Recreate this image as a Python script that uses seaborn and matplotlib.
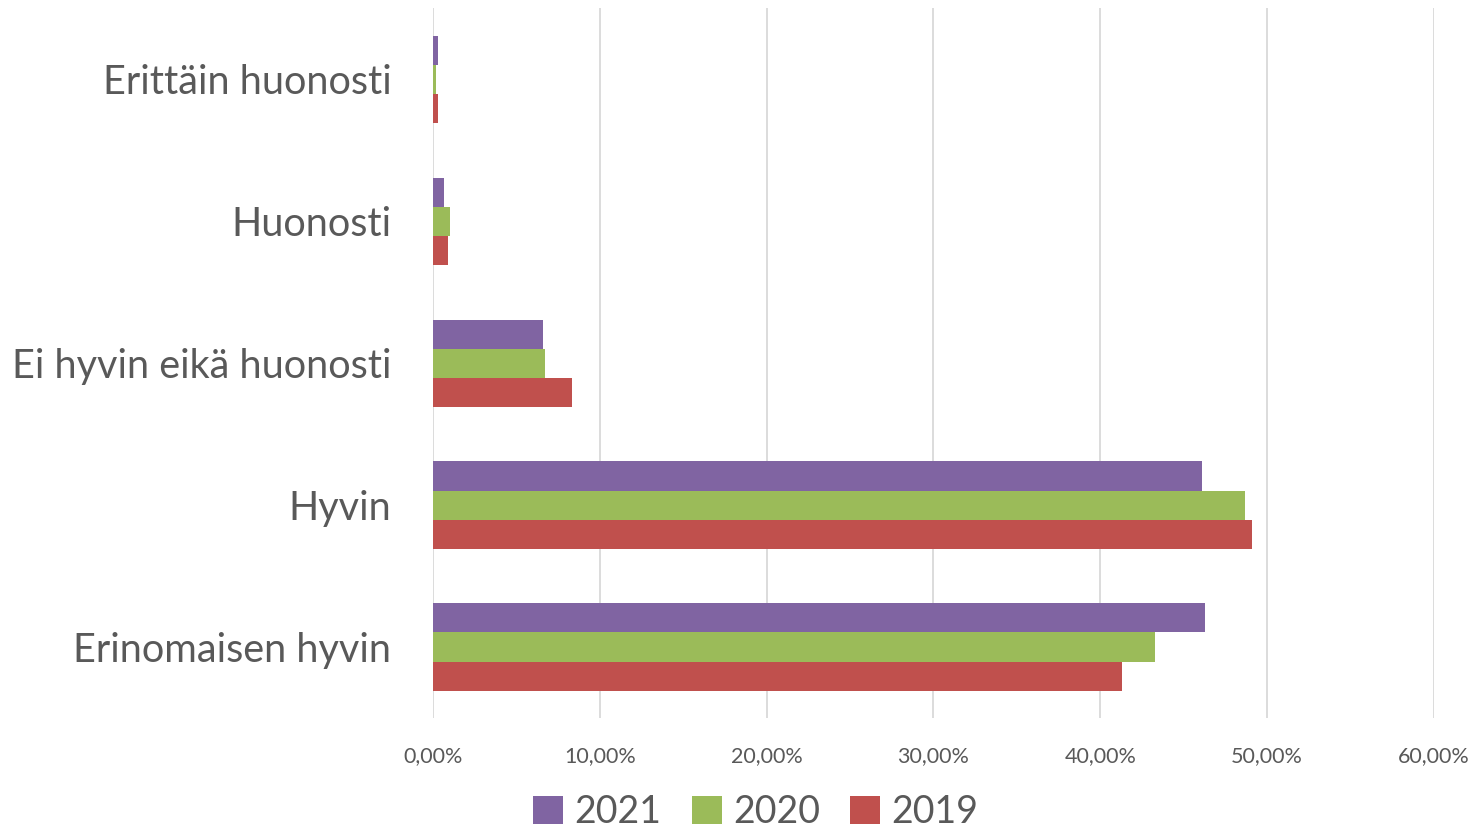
import matplotlib
matplotlib.use("Agg")
import matplotlib.pyplot as plt
import matplotlib.ticker as mticker
import seaborn as sns
import pandas as pd

# arvot luettu kuvasta (osuus vastaajista)
kategoriat = ["Erittäin huonosti", "Huonosti", "Ei hyvin eikä huonosti", "Hyvin", "Erinomaisen hyvin"]
vuodet = ["2021", "2020", "2019"]
v2021 = [0.0028, 0.0068, 0.0659, 0.4610, 0.4627]
v2020 = [0.0016, 0.0104, 0.0671, 0.4866, 0.4329]
v2019 = [0.0028, 0.0092, 0.0835, 0.4907, 0.4130]
varit = ["#8064A2", "#9BBB59", "#C0504D"]
xtikit = [0, 0.1, 0.2, 0.3, 0.4, 0.5, 0.6]

rows = []
for vuosi, arvot in zip(vuodet, [v2021, v2020, v2019]):
    for k, a in zip(kategoriat, arvot):
        rows.append({"kategoria": k, "vuosi": vuosi, "osuus": a})
df = pd.DataFrame(rows)

sns.set_style("white")
plt.rcParams["font.family"] = ["Lato", "DejaVu Sans"]
harmaa = "#595959"

fig = plt.figure(figsize=(14.76, 8.31), dpi=100)
ax = fig.add_axes([0.2934, 0.136, 0.6781, 0.854])

sns.barplot(data=df, y="kategoria", x="osuus", hue="vuosi",
            order=kategoriat, hue_order=vuodet, palette=varit,
            orient="h", width=0.615, saturation=1, linewidth=0, ax=ax)

ax.set_xlim(0, 0.6)
ax.set_xticks(xtikit)
ax.xaxis.set_major_formatter(mticker.FuncFormatter(lambda v, p: f"{v*100:.2f}%".replace(".", ",")))
ax.grid(axis="x", color="#d9d9d9", linewidth=1.3)
ax.set_axisbelow(True)
for s in ax.spines.values():
    s.set_visible(False)
ax.set_xlabel("")
ax.set_ylabel("")
ax.tick_params(axis="x", length=0, pad=20, labelsize=15.5, labelcolor=harmaa)
ax.tick_params(axis="y", length=0, pad=30, labelsize=28.5, labelcolor=harmaa)

ax.legend_.remove()
h, l = ax.get_legend_handles_labels()
fig.legend(h, l, loc="center", bbox_to_anchor=(0.512, 0.023), ncol=3,
           frameon=False, fontsize=27, labelcolor=harmaa,
           handlelength=0.8, handleheight=0.8, handletextpad=0.3, columnspacing=0.8)

fig.savefig("out.png", dpi=100)
